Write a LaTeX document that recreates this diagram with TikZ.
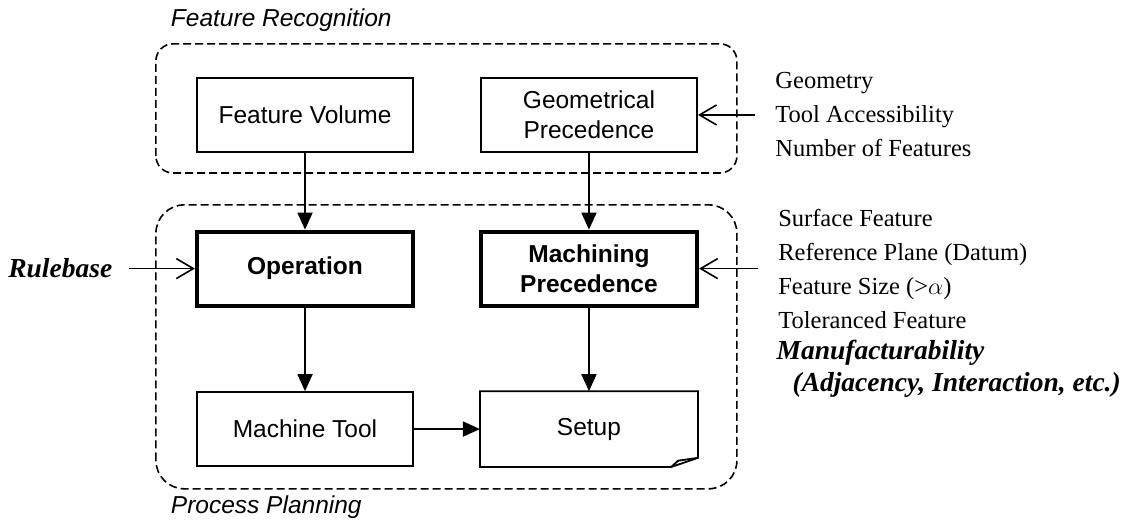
\documentclass[tikz,border=0pt]{standalone}
\usepackage{fontspec}
\setmainfont{Liberation Serif}
\setsansfont{Liberation Sans}
\usetikzlibrary{arrows.meta}

\begin{document}
\begin{tikzpicture}[>={Triangle[length=8.5pt, width=7.5pt]},
  box/.style={draw, line width=0.9pt, minimum width=3.8cm, minimum height=1.3cm, align=center, font=\sffamily\fontsize{12.25}{15}\selectfont},
  bbox/.style={box, line width=2pt, font=\sffamily\bfseries\fontsize{12.25}{15}\selectfont},
  group/.style={draw, dash pattern=on 4pt off 2pt, line width=0.8pt},
  grouplabel/.style={anchor=west, font=\sffamily\itshape\fontsize{12.25}{15}\selectfont},
  factors/.style={anchor=west, align=left, inner xsep=0.35cm, font=\rmfamily\fontsize{12.25}{17}\selectfont},
  key/.style={font=\rmfamily\bfseries\itshape\fontsize{13.75}{16}\selectfont},
  flow/.style={->, line width=0.9pt},
  side/.style={-{Straight Barb[length=8.5pt, width=10pt]}, line width=0.8pt}]

\useasboundingbox (0,0) rectangle (19.84,9.17);

% --- Feature Recognition ---
\node[grouplabel] (frl) at (2.88,8.82) {Feature Recognition};
\draw[group, rounded corners=0.3cm] (2.74,6.13) rectangle (12.95,8.40);
\node[box] (fv) at (5.36,7.15) {Feature Volume};
\node[box] (gp) at (10.35,7.15) {Geometrical\\Precedence};

% --- Process Planning ---
\draw[group, rounded corners=0.5cm] (2.74,0.58) rectangle (12.95,5.57);
\node[grouplabel] (ppl) at (2.88,0.25) {Process Planning};
\node[bbox] (op) at (5.36,4.45) {Operation};
\node[bbox] (mp) at (10.35,4.45) {Machining\\Precedence};
\node[box] (mt) at (5.36,1.63) {Machine Tool};
\node[box, draw=none] (su) at (10.35,1.63) {Setup};
% setup sheet with folded corner
\draw[line width=0.9pt] (su.south west) -- (su.north west) -- (su.north east)
  -- ([yshift=0.16cm]su.south east) -- ([xshift=-0.47cm]su.south east) -- cycle;
\draw[line width=0.9pt] ([xshift=-0.47cm]su.south east) -- ++(0.12,0.11) -- ([yshift=0.16cm]su.south east);

% flow
\draw[flow] (fv) -- (op);
\draw[flow] (gp) -- (mp);
\draw[flow] (op) -- (mt);
\draw[flow] (mp) -- (su);
\draw[flow] (mt) -- (su);

% inputs
\node[key, anchor=west, inner xsep=0.28cm] (rb) at (-0.14,4.45) {Rulebase};
\draw[side] (rb.east) -- (op.west);

\node[factors] (geo) at (13.27,7.15) {Geometry\\Tool Accessibility\\Number of Features};
\draw[side] (geo.west) -- (gp.east);

\node[factors] (surf) at (13.32,4.45) {Surface Feature\\Reference Plane (Datum)\\Feature Size (>$\alpha$)\\Toleranced Feature};
\draw[side] (surf.west) -- (mp.east);

\node[key, anchor=west, align=left, inner xsep=0pt] (mf) at (13.64,2.69) {Manufacturability\\\hspace*{8pt}(Adjacency, Interaction, etc.)};

\end{tikzpicture}
\end{document}
